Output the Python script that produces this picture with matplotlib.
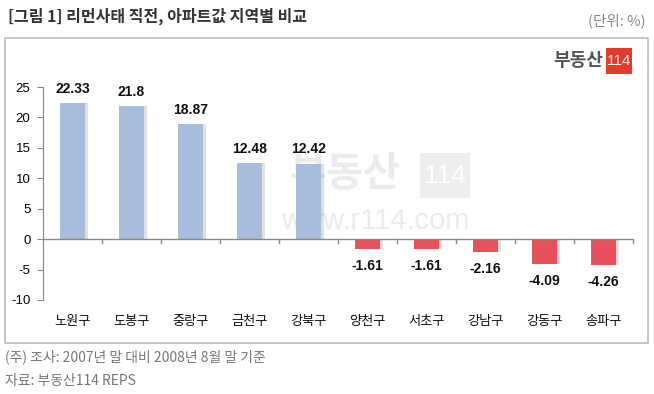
import matplotlib.pyplot as plt
from matplotlib.patches import Rectangle
import numpy as np

plt.rcParams['font.family'] = ['Noto Sans CJK KR', 'DejaVu Sans']

districts = ['노원구', '도봉구', '중랑구', '금천구', '강북구', '양천구', '서초구', '강남구', '강동구', '송파구']
changes = [22.33, 21.8, 18.87, 12.48, 12.42, -1.61, -1.61, -2.16, -4.09, -4.26]
yticks = [-10, -5, 0, 5, 10, 15, 20, 25]

W, H = 654, 394
fig = plt.figure(figsize=(W / 100, H / 100), dpi=100)

# outer frame of the chart
fig.patches.append(Rectangle((5 / W, 1 - 343 / H), 643 / W, 305 / H, transform=fig.transFigure,
                             fill=False, edgecolor='#BBBBBB', linewidth=1.2))

ax = fig.add_axes([43 / W, 1 - 300 / H, 590 / W, 213 / H])
ax.patch.set_alpha(0)
x = np.arange(len(districts))
colors = ['#A8BCDB' if v > 0 else '#E8505B' for v in changes]

# watermark, behind the bars
ax.text(345 / W, 1 - 175 / H, '부동산', transform=fig.transFigure, ha='center', va='center',
        fontsize=29, fontweight='bold', color='#EBEBEB', zorder=0)
ax.add_patch(Rectangle((420 / W, 1 - 198 / H), 50 / W, 45 / H, transform=fig.transFigure,
                       facecolor='#EEEEEE', edgecolor='none', zorder=0))
ax.text(445 / W, 1 - 176 / H, '114', transform=fig.transFigure, ha='center', va='center',
        fontsize=19, color='white', family='Liberation Sans', zorder=0.5)
ax.text(375 / W, 1 - 221 / H, 'www.r114.com', transform=fig.transFigure, ha='center', va='center',
        fontsize=21, color='#EBEBEB', family='Liberation Sans', zorder=0)

# soft shadow behind bars
ax.bar(x + 0.06, changes, width=0.42, color='#000000', alpha=0.12, zorder=1)
ax.bar(x, changes, width=0.42, color=colors, zorder=2)

for xi, v in zip(x, changes):
    if v > 0:
        ax.text(xi, v + 1.2, f'{v:g}', ha='center', va='bottom', fontsize=10, fontweight='bold',
                color='#111111', family='Liberation Sans')
    else:
        ax.text(xi, v - 1.6, f'{v:g}', ha='center', va='top', fontsize=10, fontweight='bold',
                color='#111111', family='Liberation Sans')

ax.set_xlim(-0.5, len(districts) - 0.5)
ax.set_ylim(-10, 25)
ax.set_yticks(yticks)
ax.set_yticklabels([str(t) for t in yticks], fontsize=9.5, family='Liberation Sans')
ax.set_xticks([])
for s in ['top', 'right', 'bottom']:
    ax.spines[s].set_visible(False)
ax.spines['left'].set_color('#888888')
ax.tick_params(axis='y', length=4, color='#888888', pad=5)
ax.axhline(0, color='#888888', linewidth=1, zorder=3)
for b in np.arange(0.5, len(districts) + 0.5, 1):
    ax.plot([b, b], [0, -0.6], color='#888888', linewidth=1, zorder=3, clip_on=False)
for xi, name in zip(x, districts):
    ax.text(xi, -13.6, name, ha='center', va='center', fontsize=9.5, color='#111111')

# logo
fig.text(603 / W, 1 - 61 / H, '부동산', ha='right', va='center', fontsize=13, fontweight='bold',
         color='#555555')
fig.patches.append(Rectangle((606 / W, 1 - 74 / H), 26 / W, 26 / H, transform=fig.transFigure,
                             facecolor='#E53A2E', edgecolor='none'))
fig.text(619 / W, 1 - 61 / H, '114', ha='center', va='center', fontsize=11, color='white',
         family='Liberation Sans')

# titles and notes
fig.text(8 / W, 1 - 16 / H, '[그림 1] 리먼사태 직전, 아파트값 지역별 비교', ha='left', va='center',
         fontsize=11.5, fontweight='bold', color='#333333')
fig.text(646 / W, 1 - 21 / H, '(단위: %)', ha='right', va='center', fontsize=10.5, color='#888888')
fig.text(5 / W, 1 - 357 / H, '(주) 조사: 2007년 말 대비 2008년 8월 말 기준', ha='left', va='center',
         fontsize=10, color='#777777')
fig.text(5 / W, 1 - 381 / H, '자료: 부동산114 REPS', ha='left', va='center', fontsize=10, color='#777777')

fig.savefig('out.png', dpi=100)
